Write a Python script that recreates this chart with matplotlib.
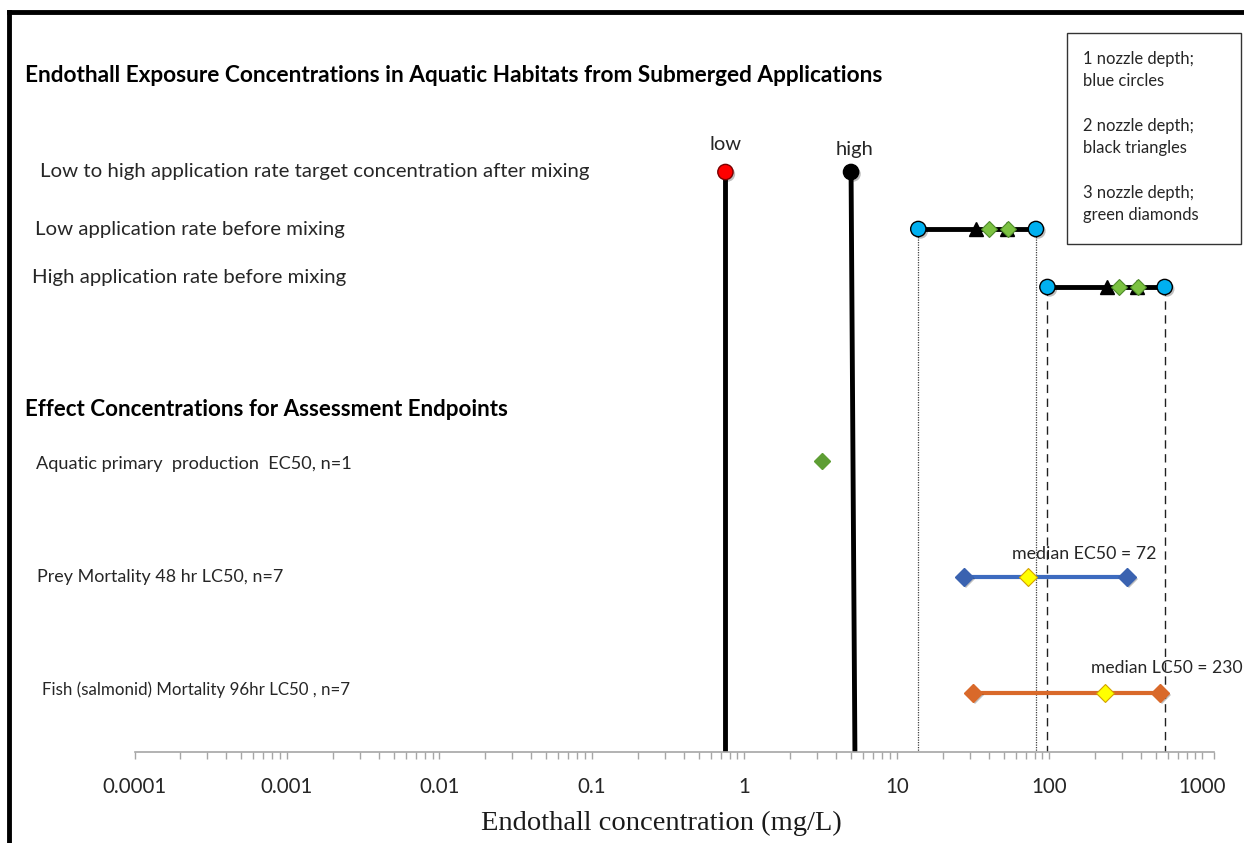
import numpy as np
import matplotlib
matplotlib.use('Agg')
import matplotlib.pyplot as plt
import matplotlib.patheffects as pe
from matplotlib.lines import Line2D
from matplotlib.patches import Rectangle
from matplotlib.ticker import FixedLocator, FuncFormatter, NullFormatter

# target concentrations after mixing (mg/L)
target_low = 0.75
target_high = 5.0
target_high_base = 5.3

# before mixing, by nozzle depth (mg/L)
low_rate_nozzle1 = [13.8, 81.5]
low_rate_nozzle2 = [33.0, 52.5]
low_rate_nozzle3 = [40.0, 53.5]
high_rate_nozzle1 = [97.0, 570.0]
high_rate_nozzle2 = [238.0, 375.0]
high_rate_nozzle3 = [286.0, 380.0]

# effect concentrations (mg/L)
primary_ec50 = 3.24
prey_range = [27.5, 322.0]
prey_median = 72
fish_range = [31.5, 530.0]
fish_median = 230

decades = [0.0001, 0.001, 0.01, 0.1, 1, 10, 100, 1000]
exposure_labels = ['Low to high application rate target concentration after mixing',
                   'Low application rate before mixing',
                   'High application rate before mixing']
effect_labels = ['Aquatic primary  production  EC50, n=1',
                 'Prey Mortality 48 hr LC50, n=7',
                 'Fish (salmonid) Mortality 96hr LC50 , n=7']
legend_lines = ['1 nozzle depth;', 'blue circles', '2 nozzle depth;', 'black triangles',
                '3 nozzle depth;', 'green diamonds']

W, H = 1244, 843
fig = plt.figure(figsize=(W / 100, H / 100), dpi=100)
plt.rcParams['font.family'] = ['Lato', 'DejaVu Sans']


def px(x, y):
    return x / W, 1 - y / H


# axes spans pixel rows 12..752, y data runs top-down in pixels
ax_l, ax_r, ax_t, ax_b = 134.5, 1214, 12, 752
ax = fig.add_axes([ax_l / W, 1 - ax_b / H, (ax_r - ax_l) / W, (ax_b - ax_t) / H])
ax.set_xscale('log')
ax.set_xlim(1e-4, 10 ** 3.079)
ax.set_ylim(ax_b, ax_t)
ax.patch.set_alpha(0)
for s in ['top', 'left', 'right']:
    ax.spines[s].set_visible(False)
ax.spines['bottom'].set_color('#a6a6a6')
ax.spines['bottom'].set_linewidth(1.2)
ax.set_yticks([])
minor = [d * k for d in decades[:-1] for k in range(2, 10)] + [10 ** 3.079]
ax.xaxis.set_major_locator(FixedLocator(decades))
ax.xaxis.set_minor_locator(FixedLocator(minor))
ax.xaxis.set_major_formatter(FuncFormatter(lambda v, p: '{:g}'.format(v)))
ax.xaxis.set_minor_formatter(NullFormatter())
ax.tick_params(axis='x', which='both', direction='out', length=5, width=1,
               color='#a6a6a6', labelsize=14.8, labelcolor='#262626', pad=13)

row_y = [172, 229, 287]
eff_y = [461, 577, 693]

shadow = [pe.SimplePatchShadow(offset=(1.5, -1.5), shadow_rgbFace='k', alpha=0.25), pe.Normal()]

# reference lines dropping from the nozzle-1 extremes
for v in low_rate_nozzle1:
    ax.plot([v, v], [row_y[1], ax_b], color='#404040', lw=0.9, ls=(0, (1, 1)), zorder=1)
for v in high_rate_nozzle1:
    ax.plot([v, v], [row_y[2], ax_b], color='#202020', lw=1.0, ls=(0, (6, 4)), zorder=1)

# target concentration lines
ax.plot([target_low, target_low], [row_y[0], ax_b], color='k', lw=3.5, zorder=2)
ax.plot([target_high, target_high_base], [row_y[0], ax_b], color='k', lw=3.5, zorder=2)
ax.plot([target_low], [row_y[0]], 'o', ms=11, mfc='#ff0000', mec='#7a0000', mew=1,
        zorder=4, path_effects=shadow)
ax.plot([target_high], [row_y[0]], 'o', ms=11, mfc='k', mec='k', zorder=4, path_effects=shadow)
ax.text(target_low, row_y[0] - 28, 'low', ha='center', va='center', fontsize=14.5,
        color='#262626')
ax.text(target_high * 1.05, row_y[0] - 23, 'high', ha='center', va='center', fontsize=14.5,
        color='#262626')

# before-mixing ranges
for y, n1, n2, n3 in [(row_y[1], low_rate_nozzle1, low_rate_nozzle2, low_rate_nozzle3),
                      (row_y[2], high_rate_nozzle1, high_rate_nozzle2, high_rate_nozzle3)]:
    ax.plot(n1, [y, y], color='k', lw=3.5, zorder=2)
    ax.plot(n2, [y, y], '^', ms=10, mfc='k', mec='k', ls='none', zorder=3)
    ax.plot(n3, [y, y], 'D', ms=8, mfc='#7cc242', mec='#4e8a2a', mew=0.8, ls='none', zorder=4)
    ax.plot(n1, [y, y], 'o', ms=11, mfc='#00b0f0', mec='k', mew=1, ls='none', zorder=5,
            path_effects=shadow)

# effect concentrations
ax.plot([primary_ec50], [eff_y[0]], 'D', ms=8, mfc='#5e9e34', mec='#5e9e34', zorder=4)

ax.plot(prey_range, [eff_y[1]] * 2, color='#3d6bbf', lw=3, zorder=2)
ax.plot(prey_range, [eff_y[1]] * 2, 'D', ms=9, mfc='#3a62b0', mec='#3a62b0', ls='none',
        zorder=3, path_effects=shadow)
ax.plot([prey_median], [eff_y[1]], 'D', ms=9, mfc='#ffff00', mec='#d4a000', mew=0.8, zorder=4)
ax.text(prey_median * 0.79, eff_y[1] - 23, 'median EC50 = {}'.format(prey_median), ha='left',
        va='center', fontsize=12.8, color='#262626')

ax.plot(fish_range, [eff_y[2]] * 2, color='#d9692a', lw=3, zorder=2)
ax.plot(fish_range, [eff_y[2]] * 2, 'D', ms=9, mfc='#d9692a', mec='#d9692a', ls='none',
        zorder=3, path_effects=shadow)
ax.plot([fish_median], [eff_y[2]], 'D', ms=9, mfc='#ffff00', mec='#d4a000', mew=0.8, zorder=4)
ax.text(fish_median * 0.82, eff_y[2] - 25, 'median LC50 = {}'.format(fish_median), ha='left',
        va='center', fontsize=12.6, color='#262626', clip_on=False)

# section headings and row labels
fig.text(*px(25, 75), 'Endothall Exposure Concentrations in Aquatic Habitats from Submerged Applications',
         fontsize=16.3, fontweight='bold', va='center', color='k')
fig.text(*px(25, 409), 'Effect Concentrations for Assessment Endpoints',
         fontsize=16.1, fontweight='bold', va='center', color='k')
for (x, y, fs), s in zip([(40, 172, 14.7), (35, 229, 14.7), (32, 277, 14.7)], exposure_labels):
    fig.text(*px(x, y), s, fontsize=fs, va='center', color='#262626')
for (x, y, fs), s in zip([(36, 464, 13.1), (37, 577, 12.9), (42, 690, 12.2)], effect_labels):
    fig.text(*px(x, y), s, fontsize=fs, va='center', color='#262626')

fig.text(*px(661, 823), 'Endothall concentration (mg/L)', fontsize=20.5, ha='center',
         va='center', family='Liberation Serif', color='#1a1a1a')

# nozzle key
fig.add_artist(Rectangle(px(1067, 244), 174 / W, 211 / H, transform=fig.transFigure,
                         fill=False, ec='#333333', lw=1))
for y, s in zip([59, 81, 126, 148, 193, 215], legend_lines):
    fig.text(*px(1083, y), s, fontsize=11.9, va='center', color='#262626')

# outer frame
fig.add_artist(Line2D([9 / W, 1], [1 - 12 / H] * 2, transform=fig.transFigure, color='k', lw=3.5))
fig.add_artist(Line2D([9 / W] * 2, [0, 1 - 12 / H], transform=fig.transFigure, color='k', lw=3.5))

fig.savefig('out.png', dpi=100)
